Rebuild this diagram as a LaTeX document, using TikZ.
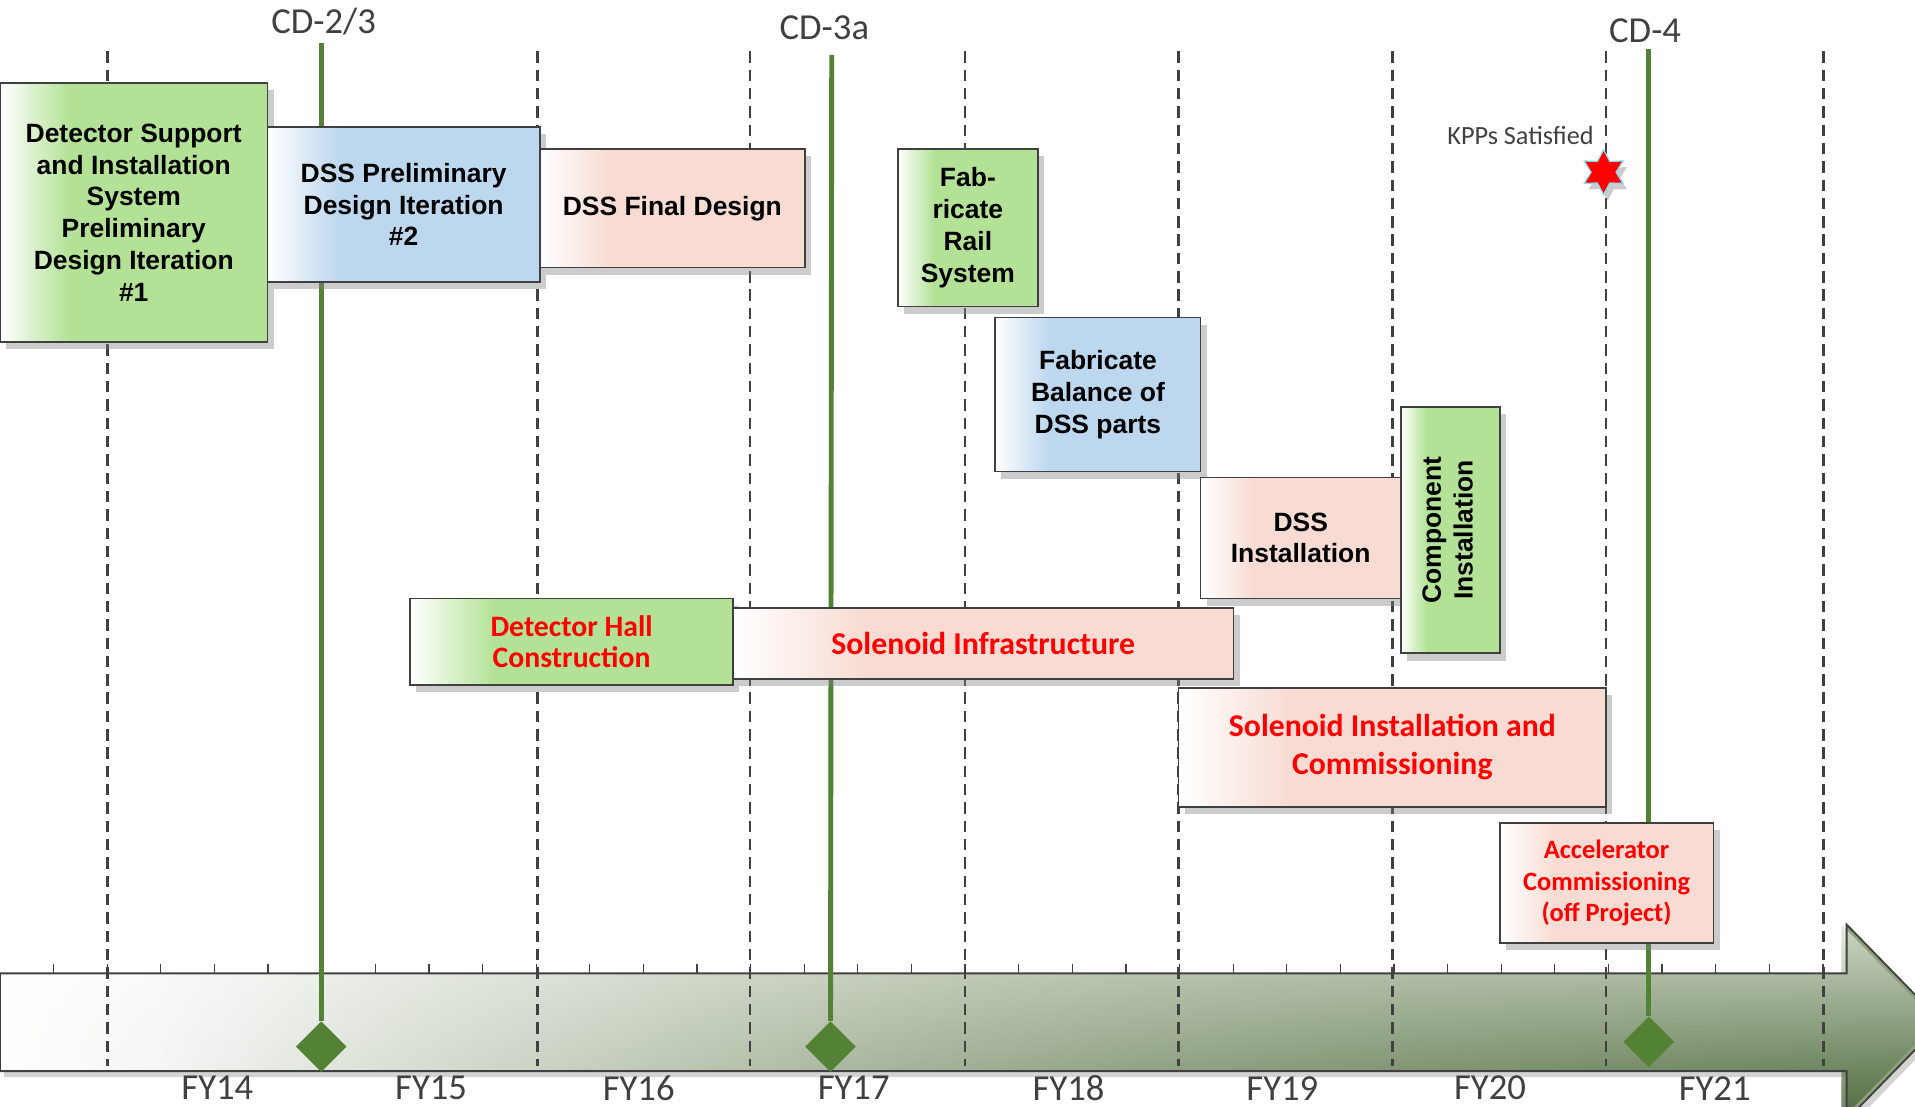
\documentclass[tikz,border=0pt]{standalone}
\usepackage{fontspec}
\usepackage{tikz}
\usetikzlibrary{shapes.geometric, shadows, fadings}
\newfontfamily\arialf{Liberation Sans}
\newfontfamily\calibf{Carlito}
\definecolor{msgreen}{RGB}{84,130,53}
\definecolor{boxgreen}{RGB}{179,226,150}
\definecolor{boxblue}{RGB}{189,215,238}
\definecolor{boxpink}{RGB}{248,220,211}
\definecolor{labgray}{RGB}{64,64,64}
\definecolor{bandlight}{RGB}{226,231,222}
\definecolor{bandmid}{RGB}{198,207,188}
\definecolor{bandmidd}{RGB}{172,186,159}
\definecolor{banddark}{RGB}{142,162,126}
\definecolor{bandtop}{RGB}{224,230,218}
\definecolor{bandbot}{RGB}{60,90,42}
\colorlet{boxc}{boxgreen}
\pgfdeclarehorizontalshading{bandshade}{100bp}{color(0bp)=(white); color(29bp)=(white);
  color(41bp)=(bandlight); color(50bp)=(bandmid); color(60bp)=(bandmidd);
  color(73bp)=(banddark); color(100bp)=(banddark)}
\pgfdeclarehorizontalshading[boxc]{boxfade}{100bp}{color(0bp)=(white); color(25bp)=(white);
  color(38bp)=(boxc); color(100bp)=(boxc)}
\tikzfading[name=bandfade, left color=transparent!100, middle color=transparent!90,
  right color=transparent!20]
\newcommand{\boxfont}{\arialf\bfseries\fontsize{13}{15.6}\selectfont}
\newcommand{\redfont}{\calibf\bfseries\fontsize{15.6}{18.6}\selectfont}
\tikzset{
  boxtint/.code = {\colorlet{boxc}{#1}},
  task/.style   = {rectangle, draw=labgray, line width=0.9pt, inner sep=0pt,
                   align=center, font=\boxfont, shading=boxfade,
                   drop shadow={opacity=0.4, shadow xshift=3pt, shadow yshift=-3.5pt}},
  gtask/.style  = {task, boxtint=boxgreen},
  btask/.style  = {task, boxtint=boxblue},
  ptask/.style  = {task, boxtint=boxpink},
  redtask/.style = {text=red, font=\redfont},
}

\begin{document}
\begin{tikzpicture}[x=0.6pt, y=-0.6pt,
  fyline/.style={draw=labgray, line width=1.3pt, dash pattern=on 5.6pt off 3.4pt},
  qtick/.style={draw=labgray, line width=0.6pt},
  cdline/.style={draw=msgreen, line width=2.4pt},
  milestone/.style={diamond, fill=msgreen, minimum size=25pt, inner sep=0pt},
  cdlabel/.style={text=labgray, font=\calibf\fontsize{18}{20}\selectfont}]
  \useasboundingbox (0,0) rectangle (1568,906);

  \shade[shading=bandshade, drop shadow={opacity=0.35, shadow xshift=2pt, shadow yshift=-3pt},
         postaction={top color=bandtop, bottom color=bandbot, path fading=bandfade}]
    (0,797) -- (1512,797) -- (1512,757) -- (1590,837) -- (1512,917) -- (1512,877) -- (0,877) -- cycle;
  \draw[labgray, line width=0.9pt]
    (0,797) -- (1512,797) -- (1512,757) -- (1590,837) -- (1512,917) -- (1512,877) -- (0,877) -- cycle;

  \foreach \x in {88,440,614,790,965,1140,1315,1493}
    \draw[fyline] (\x,42) -- (\x,873);
  \foreach \k in {1,...,34}
    \draw[qtick] (\k*43.9,789) -- (\k*43.9,797);
  \foreach \x/\n in {178/14,353/15,523/16,699/17,875/18,1050/19,1220/20,1404/21}
    \node[cdlabel] (fy\n) at (\x,891) {FY\n};

  \node[milestone] (ms1) at (263,857) {};
  \node[milestone] (ms2) at (680,857) {};
  \node[milestone] (ms3) at (1350,853) {};
  \coordinate (cd1top) at (263,35);
  \coordinate (cd2top) at (681,45);
  \coordinate (cd3top) at (1350,40);
  \draw[cdline] (cd1top) -- (ms1);
  \draw[cdline] (cd2top) -- (ms2);
  \draw[cdline] (cd3top) -- (ms3);
  \node[cdlabel] (cd1) at (265,18) {CD-2/3};
  \node[cdlabel] (cd2) at (675,23) {CD-3a};
  \node[cdlabel] (cd3) at (1347,25) {CD-4};

  \node[star, star points=6, star point ratio=1.8, minimum size=22pt, inner sep=0pt,
        fill=red, draw=cyan!45, line width=0.6pt,
        drop shadow={opacity=0.4, shadow xshift=2pt, shadow yshift=-3pt}] (kpp) at (1313,141) {};
  \node[text=labgray, font=\calibf\fontsize{12.9}{15}\selectfont] (kpplabel) at (1245,111) {KPPs Satisfied};

  \node[gtask, minimum width=131.4pt, minimum height=127.2pt] (dsis1) at (109.5,174)
    {Detector Support\\and Installation\\System\\Preliminary\\Design Iteration\\\#1};
  \node[btask, minimum width=133.8pt, minimum height=76.2pt] (dss2) at (330.5,167.5)
    {DSS Preliminary\\Design Iteration\\\#2};
  \node[ptask, minimum width=130.2pt, minimum height=58.2pt] (dssfin) at (550.5,170.5)
    {DSS Final Design};
  \node[gtask, minimum width=69pt, minimum height=77.4pt] (rail) at (792.5,186.5)
    {Fab-\\ricate\\Rail\\System};
  \node[btask, minimum width=100.8pt, minimum height=75.6pt] (parts) at (899,323)
    {Fabricate\\Balance of\\DSS parts};
  \node[ptask, minimum width=98.4pt, minimum height=59.4pt] (dssinst) at (1065,440.5)
    {DSS\\Installation};
  \node[gtask, minimum width=48.6pt, minimum height=121.2pt] (comp) at (1187.5,434)
    {\rotatebox{90}{\begin{tabular}{@{}c@{}}Component\\Installation\end{tabular}}};
  \node[gtask, redtask, font=\calibf\bfseries\fontsize{14.6}{15.6}\selectfont,
        minimum width=158.4pt, minimum height=42.6pt] (hall) at (468,525.5)
    {Detector Hall\\Construction};
  \node[ptask, redtask, minimum width=246pt, minimum height=34.8pt] (infra) at (805,527)
    {Solenoid Infrastructure};
  \node[ptask, redtask, minimum width=210pt, minimum height=58.8pt] (solinst) at (1140,612)
    {Solenoid Installation and\\Commissioning};
  \node[ptask, redtask, font=\calibf\bfseries\fontsize{13}{15.6}\selectfont,
        minimum width=105pt, minimum height=58.8pt] (accel) at (1315.5,723)
    {Accelerator\\Commissioning\\(off Project)};
\end{tikzpicture}
\end{document}
